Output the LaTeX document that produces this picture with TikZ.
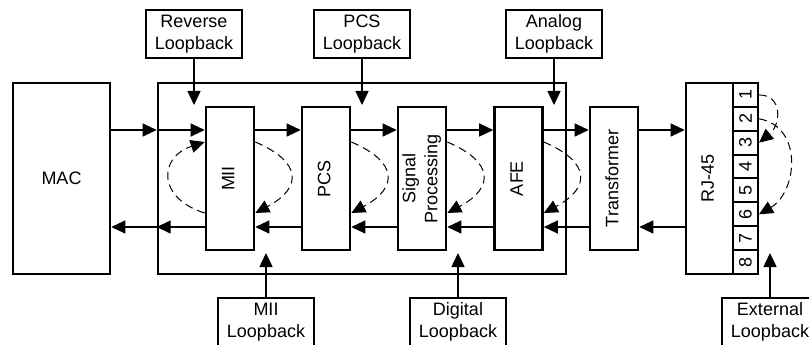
\documentclass[tikz,border=0pt]{standalone}
\usepackage{fontspec}
\setmainfont{Liberation Sans}
\usepackage{graphicx}
\usepackage{tikz}
\usetikzlibrary{arrows.meta}
\tikzset{>={Triangle[length=14pt,width=13pt]}}
\tikzstyle{block} = [draw, line width=2.6pt, inner sep=0pt, align=center,
    font=\fontsize{18}{22}\selectfont]
\tikzstyle{lbox} = [block, minimum width=96pt, minimum height=48pt]
\tikzstyle{stage} = [block, minimum width=48pt, minimum height=143pt]
\tikzstyle{pinbox} = [block, line width=2pt, minimum width=25pt,
    minimum height=23.875pt]
\tikzstyle{sig} = [->, line width=1.3pt]
\tikzstyle{ctrl} = [->, line width=1.5pt]
\tikzstyle{lpath} = [->, line width=1pt, dash pattern=on 8pt off 5pt]
\newcommand{\vtext}[1]{\rotatebox{90}{\begin{tabular}{@{}c@{}}#1\end{tabular}}}

\begin{document}
\begin{tikzpicture}[x=1pt,y=-1pt]
\useasboundingbox (0,0) rectangle (809,345);
    % rows of the data paths
    \coordinate (tx) at (0,130);
    \coordinate (bx) at (0,227);
    \coordinate (hi) at (0,142);
    \coordinate (lo) at (0,213);
    \coordinate (ttip) at (0,105);
    \coordinate (btip) at (0,253);
    %MAC and PHY
    \node[block, minimum width=97pt, minimum height=191pt] (mac) at (61.5,178.5) {MAC};
    \node[block, minimum width=408pt, minimum height=191pt] (phy) at (362,178.5) {};
    %stages
    \node[stage] (mii) at (230,178.5) {\vtext{MII}};
    \node[stage] (pcs) at (326,178.5) {\vtext{PCS}};
    \node[stage] (sp) at (422,178.5) {\vtext{Signal\\Processing}};
    \node[stage] (afe) at (518.5,178.5) {\vtext{AFE}};
    \node[stage] (xfmr) at (614,178.5) {\vtext{Transformer}};
    %connector
    \node[block, minimum width=47pt, minimum height=191pt] (rj) at (709.5,178.5) {\vtext{RJ-45}};
    \foreach \n in {1,...,8}
    {\node[pinbox] (p\n) at (745.5, {71.06+\n*23.875}) {\rotatebox{90}{\n}};}
    %loopback selectors
    \node[lbox] (rev) at (194,34) {Reverse\\Loopback};
    \node[lbox] (pcsl) at (362,34) {PCS\\Loopback};
    \node[lbox] (ana) at (554,34) {Analog\\Loopback};
    \node[lbox] (miil) at (266,322) {MII\\Loopback};
    \node[lbox] (dig) at (458,322) {Digital\\Loopback};
    \node[lbox] (ext) at (770,322) {External\\Loopback};
    \foreach \l in {rev, pcsl, ana}
    {\draw[ctrl] (\l.south) -- (\l.south |- ttip);}
    \foreach \l in {miil, dig, ext}
    {\draw[ctrl] (\l.north) -- (\l.north |- btip);}
    % data paths
    \draw[sig] (mac.east |- tx) -- (phy.west |- tx);
    \draw[sig] (phy.west |- tx) -- (mii.west |- tx);
    \draw[sig] (mii.west |- bx) -- (phy.west |- bx);
    \draw[sig] (phy.west |- bx) -- (mac.east |- bx);
    \foreach \a/\b in {mii/pcs, pcs/sp, sp/afe, afe/xfmr, xfmr/rj}
    {\draw[sig] (\a.east |- tx) -- (\b.west |- tx);
    \draw[sig] (\b.west |- bx) -- (\a.east |- bx);}
    % loops
    \draw[lpath] (mii.west |- lo) .. controls +(-48,-15) and +(-46,15) .. (mii.west |- hi);
    \foreach \s in {mii, pcs, sp, afe}
    {\draw[lpath] (\s.east |- hi) .. controls +(47,20) and +(47,-25) .. (\s.east |- lo);}
    \draw[lpath] (p1.east) .. controls +(24,0) and +(22,-18) .. (p3.east);
    \draw[lpath] (p2.east) .. controls +(45,8) and +(38,-22) .. (p6.east);
\end{tikzpicture}
\end{document}
